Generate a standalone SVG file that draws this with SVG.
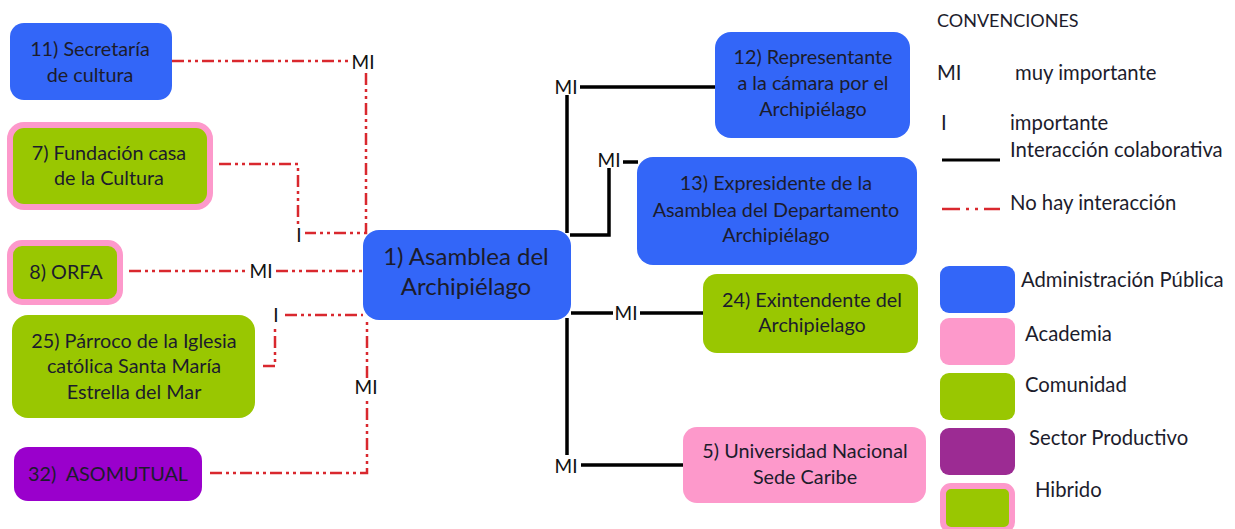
<svg xmlns="http://www.w3.org/2000/svg" width="1235" height="529" viewBox="0 0 1235 529">
<style>
text{font-family:Lato,"Open Sans","Liberation Sans",sans-serif;font-size:19.8px;fill:#1c1c2c}
.c{text-anchor:middle}
.big{font-size:24px}
.blue{fill:#3366f8}
.green{fill:#99c701}
.pink{fill:#fd99cb}
.purple{fill:#9a00cc}
.hyb{fill:#99c701;stroke:#fd99cb;stroke-width:6}
.red{fill:none;stroke:#d9282e;stroke-width:2.5;stroke-dasharray:12,4,3,4,3,4}
.blk{fill:none;stroke:#000;stroke-width:3.5}
.lbl{font-size:19px;fill:#111}
.leg{font-size:20.3px}
</style>
<rect width="1235" height="529" fill="#fff"/>
<g id="connectors">
<path class="red" d="M172,61 H349 M366,73 V233 H305"/>
<path class="red" d="M219,164 H298 V224"/>
<path class="red" d="M129,271 H247 M276,271 H363"/>
<path class="red" d="M263,366 H275 V328 M285,315 H363"/>
<path class="red" d="M210,473 H367 V398 M367,378 V320"/>
<text class="lbl c" x="363" y="69">MI</text>
<text class="lbl c" x="299" y="242">I</text>
<text class="lbl c" x="261" y="278">MI</text>
<text class="lbl c" x="276" y="322">I</text>
<text class="lbl c" x="366" y="394">MI</text>
<path class="blk" d="M567,233 V95 M580,87 H715"/>
<path class="blk" d="M570,235 H609 V168 M623,162 H638"/>
<path class="blk" d="M571,313 H613 M640,313 H703"/>
<path class="blk" d="M567,318 V455 M581,465 H684"/>
<text class="lbl c" x="566" y="94">MI</text>
<text class="lbl c" x="609" y="167">MI</text>
<text class="lbl c" x="626" y="320">MI</text>
<text class="lbl c" x="566" y="473">MI</text>
</g>
<g id="n11"><rect class="blue" x="10" y="23" width="162" height="77" rx="14"/><text class="c" x="90" y="56">11) Secretaría</text><text class="c" x="90" y="82">de cultura</text></g>
<g id="n7"><rect class="hyb" x="10" y="125" width="200" height="82" rx="14"/><text class="c" x="109" y="160">7) Fundación casa</text><text class="c" x="109" y="185">de la Cultura</text></g>
<g id="n8"><rect class="hyb" x="10" y="243" width="110" height="59" rx="12"/><text class="c" x="66" y="279">8) ORFA</text></g>
<g id="n25"><rect class="green" x="12" y="315" width="243" height="103" rx="16"/><text class="c" x="134" y="348">25) Párroco de la Iglesia</text><text class="c" x="134" y="373">católica Santa María</text><text class="c" x="134" y="399">Estrella del Mar</text></g>
<g id="n32"><rect class="purple" x="14" y="447" width="188" height="54" rx="14"/><text class="c" x="108" y="481" xml:space="preserve">32)&#160; ASOMUTUAL</text></g>
<g id="n1"><rect class="blue" x="363" y="230" width="208" height="90" rx="16"/><text class="c big" x="466" y="265">1) Asamblea del</text><text class="c big" x="466" y="295">Archipiélago</text></g>
<g id="n12"><rect class="blue" x="715" y="32" width="195" height="106" rx="16"/><text class="c" x="813" y="64">12) Representante</text><text class="c" x="813" y="90">a la cámara por el</text><text class="c" x="813" y="116">Archipiélago</text></g>
<g id="n13"><rect class="blue" x="637" y="157" width="280" height="108" rx="16"/><text class="c" x="776" y="190">13) Expresidente de la</text><text class="c" x="776" y="217">Asamblea del Departamento</text><text class="c" x="776" y="242">Archipiélago</text></g>
<g id="n24"><rect class="green" x="703" y="274" width="215" height="79" rx="14"/><text class="c" x="812" y="307">24) Exintendente del</text><text class="c" x="812" y="332">Archipielago</text></g>
<g id="n5"><rect class="pink" x="683" y="427" width="243" height="76" rx="14"/><text class="c" x="805" y="458">5) Universidad Nacional</text><text class="c" x="805" y="484">Sede Caribe</text></g>
<g id="legend">
<text x="937" y="27" style="font-size:18px">CONVENCIONES</text>
<text class="leg" x="937" y="80">MI</text><text class="leg" x="1015" y="80">muy importante</text>
<text class="leg" x="941" y="130">I</text><text class="leg" x="1010" y="130">importante</text>
<line x1="942" y1="160" x2="1000" y2="160" stroke="#000" stroke-width="3"/><text class="leg" x="1010" y="157">Interacción colaborativa</text>
<path d="M942,209 H960 M966,209 H969 M975,209 H978 M984,209 H1000" stroke="#d9282e" stroke-width="2.5" fill="none"/><text class="leg" x="1010" y="210">No hay interacción</text>
<rect class="blue" x="940" y="266" width="75" height="47" rx="9"/><text class="leg" x="1021" y="287">Administración Pública</text>
<rect class="pink" x="940" y="318" width="75" height="47" rx="9"/><text class="leg" x="1025" y="341">Academia</text>
<rect class="green" x="940" y="373" width="75" height="47" rx="9"/><text class="leg" x="1025" y="392">Comunidad</text>
<rect x="940" y="428" width="75" height="47" rx="9" fill="#9c2b93"/><text class="leg" x="1029" y="445">Sector Productivo</text>
<rect class="hyb" x="943" y="486" width="69" height="44" rx="8"/><text class="leg" x="1035" y="497">Hibrido</text>
</g>
</svg>
